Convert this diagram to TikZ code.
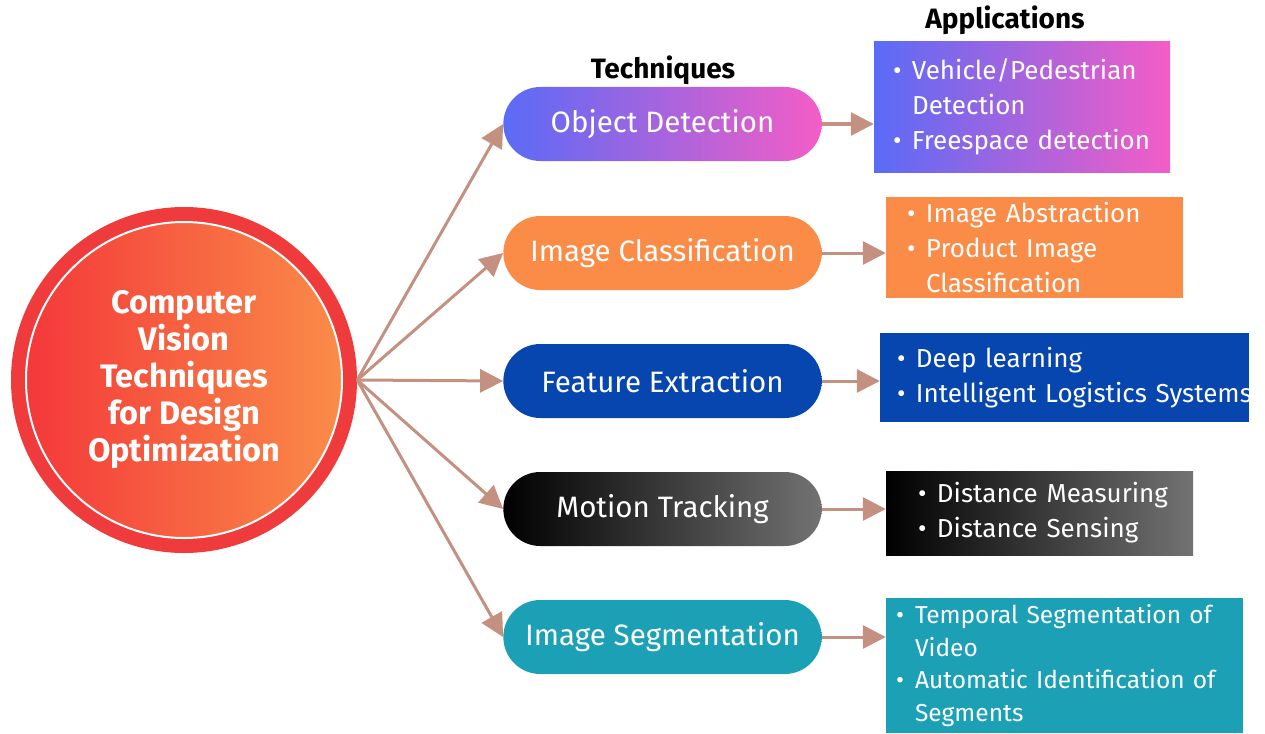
\documentclass[tikz,border=0pt]{standalone}
\usepackage{fontspec}
\setmainfont{Fira Sans}
\usetikzlibrary{arrows.meta,shapes.misc}

\definecolor{ringred}{HTML}{EF3B3B}
\definecolor{hubleft}{HTML}{F4383A}
\definecolor{hubright}{HTML}{FA8C48}
\definecolor{odblue}{HTML}{5A6BF6}
\definecolor{odpink}{HTML}{F45DC6}
\definecolor{icorange}{HTML}{FA8C48}
\definecolor{feblue}{HTML}{0646AE}
\definecolor{mtgray}{HTML}{727272}
\definecolor{isteal}{HTML}{1BA0B6}
\definecolor{linkbrown}{HTML}{C4907F}

\newcommand{\appitem}{\makebox[19pt][l]{\textbullet}}
\newcommand{\appcont}{\hspace*{19pt}}

\begin{document}
\begin{tikzpicture}[x=1pt,y=-1pt,
  pill/.style={rounded rectangle,minimum width=325pt,minimum height=74pt,
    text=white,font=\fontsize{29.5}{34}\selectfont},
  appbox/.style={rectangle,inner xsep=0pt,align=left,text=white,
    font=\fontsize{26}{35}\selectfont},
  link/.style={draw=linkbrown,line width=3pt,-{Triangle[length=23pt,width=23pt]}},
  head/.style={font=\bfseries\fontsize{28}{30}\selectfont}]
  \useasboundingbox (0,0) rectangle (1265,733);

  % hub
  \node[circle,fill=ringred,minimum size=346pt] (ring) at (184,380) {};
  \node[circle,left color=hubleft,right color=hubright,draw=white,line width=2pt,
    minimum size=316pt,align=center,text=white,
    font=\bfseries\fontsize{32.5}{37}\selectfont] (hub) at (184,380)
    {Computer\\Vision\\Techniques\\for Design\\Optimization};

  \node[head] (techhead) at (663,70) {Techniques};
  \node[head] (apphead) at (1005,20) {Applications};

  % techniques
  \foreach \i/\lab/\y/\lc/\rc in {
    1/Object Detection/124/odblue/odpink,
    2/Image Classification/253/icorange/icorange,
    3/Feature Extraction/381/feblue/feblue,
    4/Motion Tracking/509/black/mtgray,
    5/Image Segmentation/637/isteal/isteal}
  {
    \node[pill,left color=\lc,right color=\rc] (tech\i) at (662.5,\y) {\lab};
  }

  % applications
  \node[appbox,left color=odblue,right color=odpink,minimum width=296pt,
    minimum height=130pt,text width=258pt] (app1) at (1022,107)
    {\appitem Vehicle/Pedestrian\\ \appcont Detection\\ \appitem Freespace detection};
  \node[appbox,fill=icorange,minimum width=297pt,minimum height=101pt,
    text width=255pt] (app2) at (1034.5,247.5)
    {\appitem Image Abstraction\\ \appitem Product Image\\ \appcont Classification};
  \node[appbox,fill=feblue,minimum width=369pt,minimum height=89pt,
    text width=335pt] (app3) at (1064.5,377.5)
    {\appitem Deep learning\\ \mbox{\appitem Intelligent Logistics Systems}};
  \node[appbox,left color=black,right color=mtgray,minimum width=307pt,
    minimum height=84pt,text width=243pt] (app4) at (1039.5,513)
    {\mbox{\appitem Distance Measuring}\\ \appitem Distance Sensing};
  \node[appbox,fill=isteal,minimum width=357pt,minimum height=135pt,
    text width=337pt,font=\fontsize{24.5}{32.5}\selectfont] (app5) at (1064.5,665.5)
    {\mbox{\appitem Temporal Segmentation of}\\ \appcont Video\\
     \mbox{\appitem Automatic Identification of}\\ \appcont Segments};

  % connectors
  \foreach \i in {1,...,5} {
    \draw[link] (ring.east) -- (tech\i.west);
    \draw[link] (tech\i.east) -- (tech\i.east -| app\i.west);
  }
\end{tikzpicture}
\end{document}
